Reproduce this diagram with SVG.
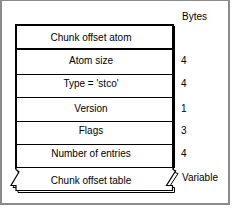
<svg xmlns="http://www.w3.org/2000/svg" width="234" height="209" viewBox="0 0 234 209">
<style>
.t{font-family:"Liberation Sans",Arial,sans-serif;font-size:10px;fill:#000}
.c{text-anchor:middle}
.row{fill:#fff;stroke:#000;stroke-width:1}
.ln{stroke:#000;stroke-width:1}
</style>
<rect x="0" y="0" width="234" height="209" fill="#fff"/>
<g id="frame" fill="#8a8a8a">
<rect x="0" y="0" width="230" height="1"/>
<rect x="0" y="0" width="2" height="205"/>
<rect x="228" y="0" width="2" height="205"/>
<rect x="0" y="203" width="230" height="2"/>
</g>
<text class="t" x="182" y="20">Bytes</text>
<g id="body">
<rect x="16" y="25" width="157" height="143" fill="#fff" stroke="#000" stroke-width="2"/>
<line x1="174" y1="26" x2="174" y2="168" stroke="#000" stroke-width="2"/>
</g>
<g id="title">
<rect x="16" y="25" width="157" height="24" fill="none" stroke="#000" stroke-width="2"/>
<text class="t c" x="91" y="41">Chunk offset atom</text>
</g>
<g id="connectors">
<line class="ln" x1="16" y1="74.5" x2="173" y2="74.5"/>
<line class="ln" x1="16" y1="97.5" x2="173" y2="97.5"/>
<line class="ln" x1="16" y1="121.5" x2="173" y2="121.5"/>
<line class="ln" x1="16" y1="144.5" x2="173" y2="144.5"/>
</g>
<g id="atom-size"><text class="t c" x="91" y="64">Atom size</text><text class="t" x="181" y="64">4</text></g>
<g id="type"><text class="t c" x="91" y="87">Type = 'stco'</text><text class="t" x="181" y="87">4</text></g>
<g id="version"><text class="t c" x="91" y="112">Version</text><text class="t" x="181" y="112">1</text></g>
<g id="flags"><text class="t c" x="91" y="134">Flags</text><text class="t" x="181" y="134">3</text></g>
<g id="entries"><text class="t c" x="91" y="157">Number of entries</text><text class="t" x="181" y="157">4</text></g>
<g id="table">
<path d="M18,170.5 L175,170.5 L175,172.5 L178,173.5 L169,187.5 L174.5,187.5 L174.5,192.5 L18,192.5 L18,187.5 L13,187.5 L21,174.5 L18,172.5 Z" fill="#fff" stroke="#000" stroke-width="1"/>
<path d="M16,167.5 L173,167.5 L173,169.5 L175.5,171 L166.5,185.5 L172.5,185.5 L172.5,190.5 L16,190.5 L16,185.5 L11,185.5 L19,172 L16,169.5 Z" fill="#fff" stroke="#000" stroke-width="1.2"/>
<text class="t c" x="91" y="184">Chunk offset table</text>
<text class="t" x="182" y="181">Variable</text>
</g>
</svg>
